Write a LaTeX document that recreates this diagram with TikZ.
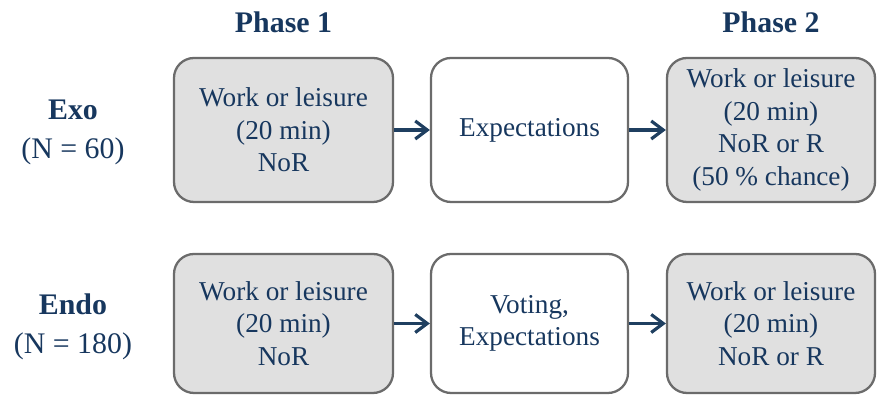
\documentclass[tikz,border=0pt]{standalone}
\usepackage{fontspec}
\setmainfont{Liberation Serif}
\usetikzlibrary{arrows.meta,positioning}
\definecolor{txtblue}{HTML}{17375E}
\definecolor{arrblue}{HTML}{1F3F60}
\definecolor{boxgrey}{HTML}{E0E0E0}
\definecolor{lineGrey}{HTML}{6B6B6B}
\tikzset{
    >={Straight Barb[length=2.4mm,width=3.6mm]}, % arrow heads
    stagebox/.style={draw=lineGrey, line width=1.3pt, rounded corners=0.4cm,
        align=center, text=txtblue, inner sep=0pt,
        font=\fontsize{15.5}{18.6}\selectfont}, % the boxes
    taskbox/.style={stagebox, fill=boxgrey}, % grey boxes
    groupname/.style={align=center, text=txtblue,
        font=\fontsize{17}{22}\selectfont}, % Exo / Endo
    phasename/.style={text=txtblue, font=\fontsize{17}{20}\selectfont\bfseries},
    every edge/.append style={draw=arrblue, line width=1.8pt},
}

\begin{document}
\begin{tikzpicture}
  \useasboundingbox (0,0) rectangle (17.54,7.92);

  % first row
  \node[taskbox, minimum width=4.38cm, minimum height=2.88cm] (exo_1) at (5.67,5.32)
      {Work or leisure\\(20 min)\\NoR};
  \node[stagebox, minimum width=3.94cm, minimum height=2.88cm] (exo_e) at (10.59,5.32)
      {Expectations};
  \node[taskbox, minimum width=4.16cm, minimum height=2.88cm] (exo_2) at (15.42,5.32)
      {Work or leisure\\(20 min)\\NoR or R\\(50 \% chance)};

  % second row
  \node[taskbox, minimum width=4.38cm, minimum height=2.78cm] (endo_1) at (5.67,1.45)
      {Work or leisure\\(20 min)\\NoR};
  \node[stagebox, minimum width=3.94cm, minimum height=2.78cm] (endo_e) at (10.59,1.45)
      {Voting,\\Expectations};
  \node[taskbox, minimum width=4.16cm, minimum height=2.78cm] (endo_2) at (15.42,1.45)
      {Work or leisure\\(20 min)\\NoR or R};

  % labels
  \node[phasename] (ph_1) at (5.67,7.48) {Phase 1};
  \node[phasename] (ph_2) at (15.42,7.48) {Phase 2};
  \node[groupname] (g_exo) at (1.46,5.27) {\textbf{Exo}\\(N = 60)};
  \node[groupname] (g_endo) at (1.46,1.39) {\textbf{Endo}\\(N = 180)};

  \path[->]
    (exo_1) edge (exo_e)
    (exo_e) edge (exo_2)
    (endo_1) edge (endo_e)
    (endo_e) edge (endo_2);
\end{tikzpicture}
\end{document}
